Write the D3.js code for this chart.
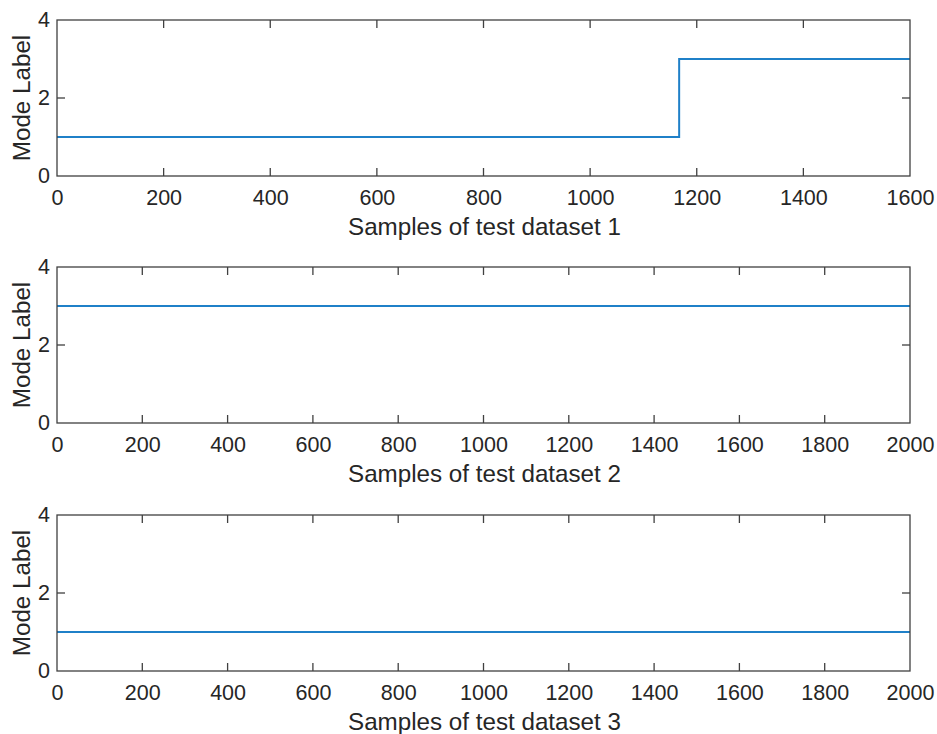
<!DOCTYPE html>
<html>
<head>
<meta charset="utf-8">
<script src="https://cdn.jsdelivr.net/npm/d3@7"></script>
<style>
  html, body { margin: 0; padding: 0; background: #fff; }
  svg text { font-family: "Liberation Sans", Arial, Helvetica, sans-serif; fill: #262626; }
</style>
</head>
<body>
<svg id="chart" width="937" height="734"></svg>
<script>
// Mode label per sample for each test dataset (step changes as [start, end, label])
const dataset1Segments = [[0, 1167, 1], [1167, 1600, 3]];
const dataset2Segments = [[0, 2000, 3]];
const dataset3Segments = [[0, 2000, 1]];

const xMax = [1600, 2000, 2000];
const xTicks1 = [0, 200, 400, 600, 800, 1000, 1200, 1400, 1600];
const xTicks23 = [0, 200, 400, 600, 800, 1000, 1200, 1400, 1600, 1800, 2000];
const yTicks = [0, 2, 4];
const xTitles = ["Samples of test dataset 1", "Samples of test dataset 2", "Samples of test dataset 3"];
const yTitle = "Mode Label";

const panels = [
  { segs: dataset1Segments, xmax: xMax[0], ticks: xTicks1, title: xTitles[0], top: 20, bottom: 176 },
  { segs: dataset2Segments, xmax: xMax[1], ticks: xTicks23, title: xTitles[1], top: 267, bottom: 423 },
  { segs: dataset3Segments, xmax: xMax[2], ticks: xTicks23, title: xTitles[2], top: 515, bottom: 671 }
];

const left = 57, right = 910;
const axisColor = "#404040";
const lineColor = "#1f80c8";
const tickLen = 8;
const tickFont = 21.5;
const titleFont = 24.2;

const svg = d3.select("#chart");

panels.forEach(p => {
  const x = d3.scaleLinear().domain([0, p.xmax]).range([left, right]);
  const y = d3.scaleLinear().domain([0, 4]).range([p.bottom, p.top]);
  const g = svg.append("g");

  // Convert step segments into a stair path
  const pts = [];
  p.segs.forEach(s => { pts.push([s[0], s[2]]); pts.push([s[1], s[2]]); });
  const line = d3.line().x(d => x(d[0])).y(d => y(d[1]));
  g.append("path").datum(pts)
    .attr("d", line)
    .attr("fill", "none")
    .attr("stroke", lineColor)
    .attr("stroke-width", 2);

  // Box
  g.append("rect")
    .attr("x", left).attr("y", p.top)
    .attr("width", right - left).attr("height", p.bottom - p.top)
    .attr("fill", "none").attr("stroke", axisColor).attr("stroke-width", 1.3);

  // Bottom axis labels, inward ticks on bottom and top
  const xb = d3.axisBottom(x).tickValues(p.ticks).tickSize(0).tickPadding(14).tickFormat(d3.format("d"));
  const gx = g.append("g").attr("transform", `translate(0,${p.bottom})`).call(xb);
  gx.select(".domain").remove();
  gx.selectAll("text").attr("font-size", tickFont).style("fill", "#262626")
    .attr("font-family", "Liberation Sans, Arial, sans-serif");

  p.ticks.forEach(t => {
    if (t === 0 || t === p.xmax) return;
    g.append("line").attr("x1", x(t)).attr("x2", x(t))
      .attr("y1", p.bottom).attr("y2", p.bottom - tickLen)
      .attr("stroke", axisColor).attr("stroke-width", 1.3);
    g.append("line").attr("x1", x(t)).attr("x2", x(t))
      .attr("y1", p.top).attr("y2", p.top + tickLen)
      .attr("stroke", axisColor).attr("stroke-width", 1.3);
  });

  // Left axis labels; inward ticks on both sides
  const yl = d3.axisLeft(y).tickValues(yTicks).tickSize(0).tickPadding(7).tickFormat(d3.format("d"));
  const gy = g.append("g").attr("transform", `translate(${left},0)`).call(yl);
  gy.select(".domain").remove();
  gy.selectAll("text").attr("font-size", tickFont).style("fill", "#262626")
    .attr("font-family", "Liberation Sans, Arial, sans-serif");

  yTicks.forEach(t => {
    if (t === 0 || t === 4) return;
    g.append("line").attr("x1", left).attr("x2", left + tickLen)
      .attr("y1", y(t)).attr("y2", y(t))
      .attr("stroke", axisColor).attr("stroke-width", 1.3);
    g.append("line").attr("x1", right).attr("x2", right - tickLen)
      .attr("y1", y(t)).attr("y2", y(t))
      .attr("stroke", axisColor).attr("stroke-width", 1.3);
  });

  // Axis titles
  g.append("text")
    .attr("x", (left + right) / 2 + 1).attr("y", p.bottom + 59)
    .attr("text-anchor", "middle").attr("font-size", titleFont)
    .text(p.title);
  g.append("text")
    .attr("transform", `translate(30,${(p.top + p.bottom) / 2}) rotate(-90)`)
    .attr("text-anchor", "middle").attr("font-size", titleFont)
    .text(yTitle);
});
</script>
</body>
</html>
